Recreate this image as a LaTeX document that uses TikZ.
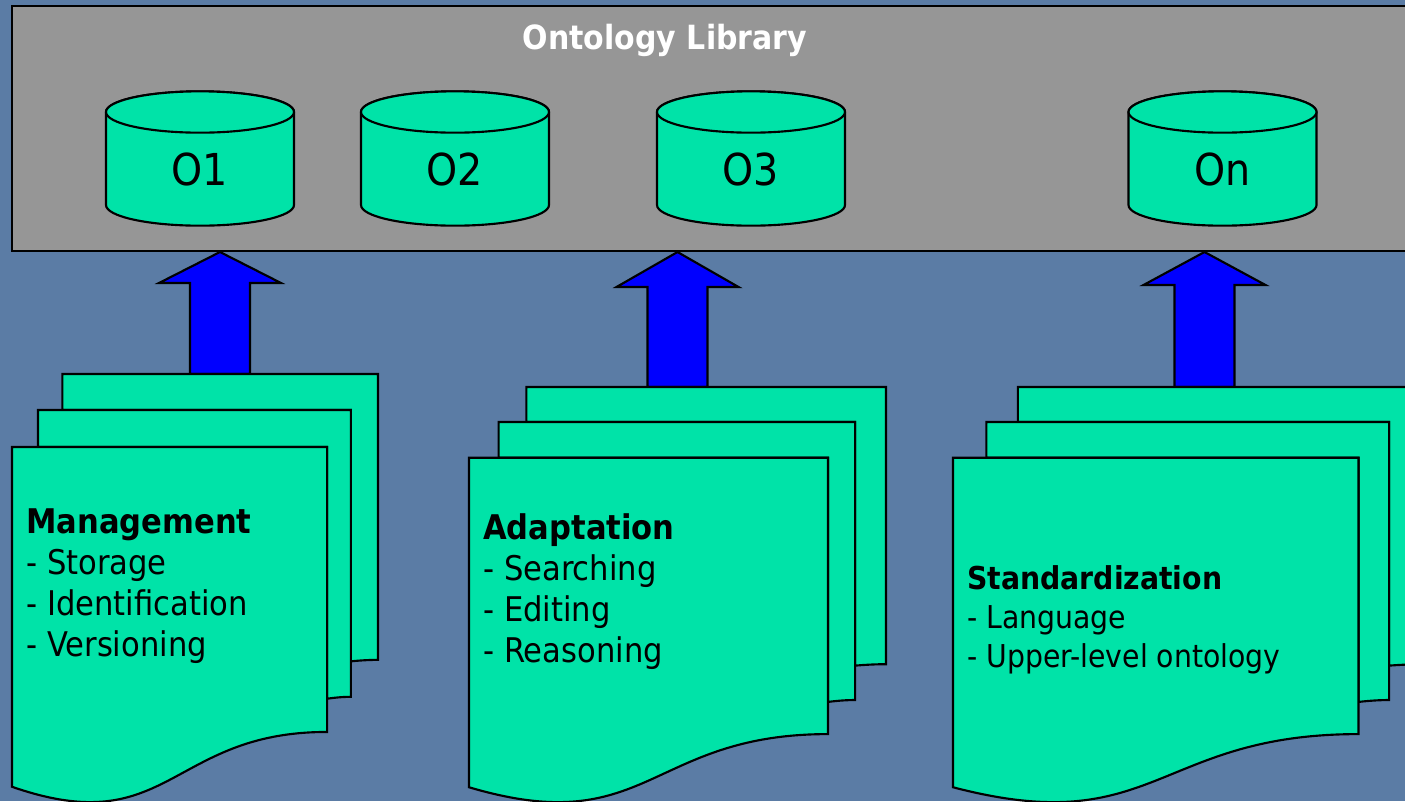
\documentclass[tikz,border=0pt]{standalone}
\usepackage{fontspec}
\setmainfont{DejaVu Sans}[FakeStretch=0.9]
\usetikzlibrary{calc}

\definecolor{bgblue}{HTML}{5B7CA5}
\definecolor{libgray}{HTML}{969696}
\definecolor{docgreen}{HTML}{00E3A8}
\definecolor{arrblue}{HTML}{0000FF}

% stack of three pages, box given as x0, y0, width, height
\newcommand{\multidoc}[4]{%
\begin{scope}[shift={(#1,#2)},xscale=#3/216,yscale=#4/216]
\draw[docfill] (29.72,18.15) -- (29.72,0) -- (216,0) -- (216,143.92) .. controls (208,143.92) and (200,144.67) .. (200,144.67) -- (200,18.15) -- cycle;
\draw[docfill] (15.32,36.75) -- (15.32,18.15) -- (200,18.15) -- (200,162.52) .. controls (192.98,162.52) and (185.95,163.52) .. (185.95,163.52) -- (185.95,36.75) -- cycle;
\draw[docfill] (0,207.82) .. controls (92.98,235.42) and (92.98,180.22) .. (185.95,180.22) -- (185.95,36.75) -- (0,36.75) -- cycle;
\end{scope}}

% database drum, centre x and name
\newcommand{\dbcyl}[2]{%
\draw[docfill] (#1-94,112) -- (#1-94,205) arc[start angle=180,end angle=360,x radius=70.5pt,y radius=15.5pt] -- (#1+94,112) arc[start angle=0,end angle=180,x radius=70.5pt,y radius=15.5pt] -- cycle;
\draw[docfill] (#1,112) ellipse[x radius=70.5pt,y radius=15.5pt];
\node[dblabel] (#2) at (#1,169) {#2};}

% block arrow from a stack up to the library
\newcommand{\uparr}[3]{%
\draw[bigarrow] (#1) -- ++(61,#3) -- ++(-31,0) |- ($(#2)+(-30,0)$) |- ($(#1)+(-61,#3)$) -- cycle;}

\begin{document}
\begin{tikzpicture}[x=0.75pt,y=-0.75pt,
docfill/.style={draw=black,line width=1.6pt,fill=docgreen},
dblabel/.style={inner sep=0pt,font=\fontsize{33pt}{36pt}\selectfont},
bigarrow/.style={draw=black,line width=1.6pt,fill=arrblue,line join=miter},
doctext/.style={anchor=north west,inner sep=0pt,align=left,font=\fontsize{25.5pt}{30.75pt}\selectfont},
smalltext/.style={anchor=north west,inner sep=0pt,align=left,font=\fontsize{23.6pt}{29.25pt}\selectfont}]
\useasboundingbox (0,0) rectangle (1405,801);
\fill[bgblue] (0,0) rectangle (1405,801);

% library
\draw[line width=1.6pt,fill=libgray] (12,6) rectangle (1425,251);
\node[anchor=base,inner sep=0pt,text=white,font=\fontsize{25pt}{30pt}\selectfont\bfseries] (lib) at (665,49) {Ontology Library};
\dbcyl{200}{O1}
\dbcyl{455}{O2}
\dbcyl{751}{O3}
\dbcyl{1222.5}{On}

\coordinate (L1) at (220,252);
\coordinate (L2) at (677.5,252);
\coordinate (L3) at (1204.5,252);
\coordinate (Mtop) at (220,374);
\coordinate (Atop) at (677.5,387);
\coordinate (Stop) at (1204.5,387);
\uparr{L1}{Mtop}{31}
\uparr{L2}{Atop}{35}
\uparr{L3}{Stop}{33}

% stacks
\multidoc{12}{374}{366}{429}
\multidoc{469}{387}{417}{416}
\multidoc{953}{387}{471}{416}
\node[doctext] (M) at (26,508) {\textbf{Management}\\- Storage\\- Identification\\- Versioning};
\node[doctext] (A) at (483,513) {\textbf{Adaptation}\\- Searching\\- Editing\\- Reasoning};
\node[smalltext] (S) at (967,565) {\textbf{Standardization}\\- Language\\- Upper-level ontology};
\end{tikzpicture}
\end{document}
